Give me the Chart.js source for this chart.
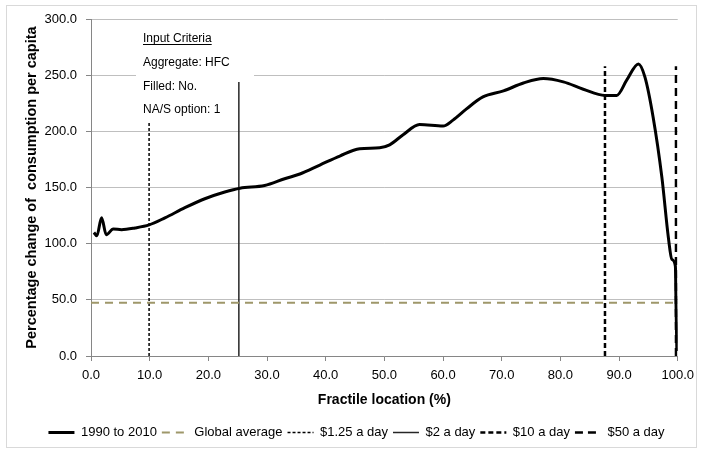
<!DOCTYPE html>
<html><head><meta charset="utf-8">
<script src="https://cdn.jsdelivr.net/npm/chart.js@4"></script>
<style>html,body{margin:0;padding:0;background:#fff}#wrap{width:701px;height:451px;position:relative}</style>
</head><body><div id="wrap"><canvas id="c" width="701" height="451"></canvas></div>
<script>
// ---- data ----
const fractile = [0.5, 1.0, 1.8, 2.6, 3.8, 5.2, 7.5, 9.9, 12.6, 16.0, 19.4, 22.8, 25.4, 29.6, 33.0, 35.6, 39.0, 42.4, 45.8, 49.2, 50.9, 53.2, 56.0, 60.0, 61.7, 64.0, 66.8, 70.3, 73.7, 77.1, 80.5, 83.9, 87.6, 89.6, 91.3, 93.3, 94.4, 95.8, 97.3, 98.4, 99.0, 99.6, 99.7, 99.85];
const change = [110, 107, 123, 108, 113, 112.5, 114, 116.7, 123, 132, 140, 146, 149.4, 151.8, 157.8, 162, 170, 178, 184.5, 185.4, 188, 197, 206, 204.7, 210, 220, 230.6, 236, 243, 247, 244, 237.5, 232, 232, 245.5, 260, 248.5, 212.8, 159, 105.6, 86, 80, 49, 4.5];
const seriesName = '1990 to 2010';
const globalAverageName = 'Global average';
const globalAverage = 47.5;
const povertyNames = ['$1.25 a day', '$2 a day', '$10 a day', '$50 a day'];
const povertyX = [9.9, 25.2, 87.6, 99.7];
const povertyTop = [208, 244, 258, 258];
const xTicks = [0, 10, 20, 30, 40, 50, 60, 70, 80, 90, 100];
const yTicks = [0, 50, 100, 150, 200, 250, 300];
const criteria = ['Input Criteria', 'Aggregate: HFC', 'Filled: No.', 'NA/S option: 1'];
const xTitle = 'Fractile location (%)';
const yTitle = 'Percentage change of  consumption per capita';

// ---- styles ----
const FONT = '"Liberation Sans", Arial, sans-serif';
const povertyStyles = [
  {color: '#000000', width: 1.5, dash: [3, 2]},
  {color: '#262626', width: 1.5, dash: []},
  {color: '#000000', width: 2.5, dash: [5, 3]},
  {color: '#000000', width: 2.5, dash: [8, 5]}
];

const datasets = [
  {
    label: seriesName,
    data: fractile.map((x, i) => ({x, y: change[i]})),
    borderColor: '#000', backgroundColor: '#000', borderWidth: 3,
    cubicInterpolationMode: 'monotone', pointRadius: 0, showLine: true, order: 0
  },
  {
    label: globalAverageName,
    data: [{x: xTicks[0], y: globalAverage}, {x: xTicks[xTicks.length - 1], y: globalAverage}],
    borderColor: '#9E976A', backgroundColor: '#9E976A', borderWidth: 2, borderDash: [8, 6],
    pointRadius: 0, showLine: true, order: 1
  }
];
povertyNames.forEach((name, i) => {
  const s = povertyStyles[i];
  datasets.push({
    label: name,
    data: [{x: povertyX[i], y: 0}, {x: povertyX[i], y: povertyTop[i]}],
    borderColor: s.color, backgroundColor: s.color, borderWidth: s.width, borderDash: s.dash,
    pointRadius: 0, showLine: true, order: 2 + i
  });
});

const boxPlugin = {
  id: 'criteriaBox',
  beforeDatasetsDraw(chart) {
    const ctx = chart.ctx;
    ctx.save();
    ctx.fillStyle = '#fff';
    ctx.fillRect(136, 27, 118, 53);
    ctx.restore();
  },
  afterDatasetsDraw(chart) {
    const ctx = chart.ctx;
    ctx.save();
    ctx.font = '12px ' + FONT;
    ctx.fillStyle = '#000';
    ctx.textBaseline = 'middle';
    ctx.textAlign = 'left';
    const ys = [39, 63, 86.5, 110];
    criteria.forEach((t, i) => {
      ctx.fillText(t, 143, ys[i]);
      if (i === 0) {
        const w = ctx.measureText(t).width;
        ctx.fillRect(143, ys[i] + 5, w, 1);
      }
    });
    ctx.restore();
  },
  afterDraw(chart) {
    const ctx = chart.ctx;
    ctx.save();
    ctx.strokeStyle = '#D9D9D9';
    ctx.lineWidth = 1;
    ctx.strokeRect(6.5, 5.5, 690, 442);
    ctx.restore();
  }
};

new Chart(document.getElementById('c'), {
  type: 'scatter',
  data: {datasets},
  plugins: [boxPlugin],
  options: {
    responsive: false,
    animation: false,
    devicePixelRatio: 1,
    layout: {padding: {left: 35, right: 23, top: 19, bottom: 2}},
    plugins: {
      legend: {
        position: 'bottom',
        labels: {
          usePointStyle: true, pointStyle: 'line', pointStyleWidth: 26,
          boxWidth: 26, boxHeight: 13, padding: 5, color: '#000',
          font: {family: FONT, size: 13},
          generateLabels: chart => chart.data.datasets.map((ds, i) => ({
            text: ds.label,
            fillStyle: ds.borderColor,
            strokeStyle: ds.borderColor,
            lineWidth: ds.borderWidth,
            lineDash: ds.borderDash || [],
            lineCap: 'butt',
            pointStyle: 'line',
            fontColor: '#000',
            hidden: false,
            datasetIndex: i
          }))
        }
      },
      tooltip: {enabled: false}
    },
    scales: {
      x: {
        type: 'linear', min: 0, max: 100,
        afterBuildTicks: s => { s.ticks = xTicks.map(v => ({value: v})); },
        ticks: {callback: v => Number(v).toFixed(1), color: '#000', font: {family: FONT, size: 13}, padding: 7, maxRotation: 0},
        grid: {drawOnChartArea: false, tickLength: 5, tickColor: '#868686'},
        border: {color: '#868686'},
        title: {display: true, text: xTitle, color: '#000', font: {family: FONT, size: 14, weight: 'bold'}, padding: {top: 2, bottom: 12}},
        afterFit: s => { s.height = 65; }
      },
      y: {
        type: 'linear', min: 0, max: 300,
        afterBuildTicks: s => { s.ticks = yTicks.map(v => ({value: v})); },
        ticks: {callback: v => Number(v).toFixed(1), color: '#000', font: {family: FONT, size: 13}, padding: 9},
        grid: {color: '#BFBFBF', tickLength: 5, tickColor: '#868686'},
        border: {color: '#868686'},
        title: {display: true, text: yTitle, color: '#000', font: {family: FONT, size: 14.5, weight: 'bold'}, padding: {top: -12, bottom: 0}},
        afterFit: s => { s.width = 56; }
      }
    }
  }
});
</script>
</body></html>
